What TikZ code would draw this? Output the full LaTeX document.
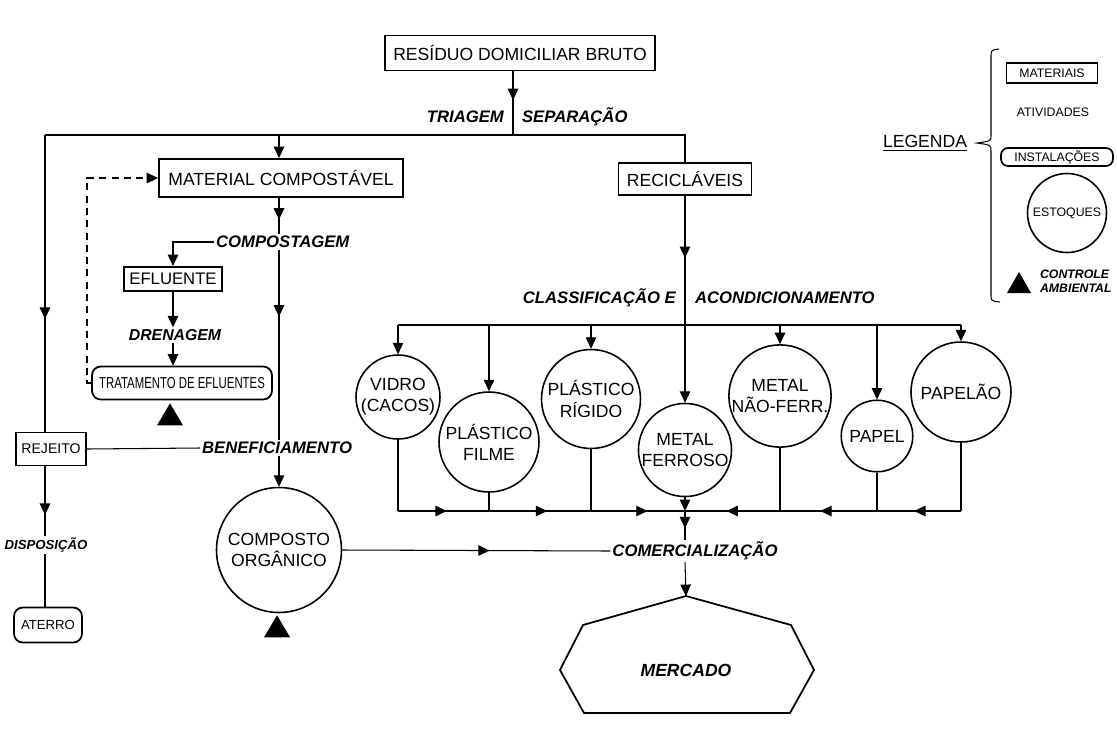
\documentclass[tikz,border=0pt]{standalone}
\usepackage{fontspec}
\setmainfont{Liberation Sans}
\newfontfamily\narrowfont{Liberation Sans}[FakeStretch=0.72]
\usetikzlibrary{arrows.meta,decorations.markings,calc}

\tikzset{
  ponta/.tip={Triangle[width=6pt,length=6.5pt]},
  fluxo/.style={line width=0.6pt},
  material/.style={draw, line width=1.1pt, inner sep=0pt, font=\fontsize{10}{12}\selectfont},
  instalacao/.style={draw, line width=1pt, rounded corners=5pt, inner sep=0pt},
  estoque/.style={draw, circle, line width=0.9pt, inner sep=0pt, align=center, font=\fontsize{10}{12}\selectfont},
  atividade/.style={inner sep=1pt, font=\bfseries\itshape\fontsize{9.5}{11}\selectfont},
  arrowat/.style={postaction={decorate}, decoration={markings,
      mark=at position #1 with {\arrow{ponta}}}},
  barra/.style n args={3}{postaction={decorate}, decoration={markings,
      mark=at position #1 with {\arrow{ponta}},
      mark=at position #2 with {\arrow{ponta}},
      mark=at position #3 with {\arrow{ponta}}}}
}

% triangulo de controle ambiental
\newcommand{\ambiental}[1]{\fill (#1) -- ++(-13,22) -- ++(26,0) -- cycle;}

\begin{document}
\begin{tikzpicture}[x=0.02cm, y=-0.02cm]
  \useasboundingbox (0,0) rectangle (1117,731);

  % materiais e atividades
  \node[material, minimum width=5.4cm, minimum height=0.7cm] (residuo) at (520,53) {RESÍDUO DOMICILIAR BRUTO};
  \node[atividade, anchor=east] (triagem) at (506,117) {TRIAGEM};
  \node[atividade, anchor=west] (separacao) at (520,117) {SEPARAÇÃO};
  \node[material, minimum width=4.88cm, minimum height=0.76cm] (material) at (281,178) {MATERIAL COMPOSTÁVEL};
  \node[material, minimum width=2.66cm, minimum height=0.64cm] (reciclaveis) at (685,179) {RECICLÁVEIS};
  \node[atividade, anchor=west] (compostagem) at (214,242) {COMPOSTAGEM};
  \node[material, minimum width=1.96cm, minimum height=0.48cm, font=\fontsize{9.5}{11}\selectfont] (efluente) at (173,279) {EFLUENTE};
  \node[atividade, font=\bfseries\itshape\fontsize{9}{11}\selectfont] (drenagem) at (175,335) {DRENAGEM};
  \node[instalacao, minimum width=3.6cm, minimum height=0.66cm, font=\narrowfont\fontsize{9}{10}\selectfont] (tratamento) at (182,383) {TRATAMENTO DE EFLUENTES};
  \node[material, minimum width=1.4cm, minimum height=0.66cm, font=\fontsize{8}{9}\selectfont] (rejeito) at (51,449) {REJEITO};
  \node[atividade, anchor=west] (beneficiamento) at (200,448) {BENEFICIAMENTO};
  \node[atividade, font=\bfseries\itshape\fontsize{7.5}{9}\selectfont] (disposicao) at (46,545) {DISPOSIÇÃO};
  \node[instalacao, minimum width=1.36cm, minimum height=0.7cm, font=\fontsize{7.5}{9}\selectfont] (aterro) at (48,625) {ATERRO};
  \node[estoque, minimum size=2.5cm] (composto) at (279,550) {COMPOSTO\\ORGÂNICO};
  \node[atividade, anchor=east] (classificacao) at (678,298) {CLASSIFICAÇÃO E};
  \node[atividade, anchor=west] (acondicionamento) at (693,298) {ACONDICIONAMENTO};

  % estoques de reciclaveis
  \node[estoque, minimum size=1.68cm] (vidro) at (398,397) {VIDRO\\(CACOS)};
  \node[estoque, minimum size=2cm] (filme) at (489,442) {PLÁSTICO\\FILME};
  \node[estoque, minimum size=1.98cm] (rigido) at (591,399) {PLÁSTICO\\RÍGIDO};
  \node[estoque, minimum size=1.84cm] (ferroso) at (685,450) {METAL\\FERROSO};
  \node[estoque, minimum size=2.04cm] (naoferr) at (780,396) {METAL\\NÃO-FERR.};
  \node[estoque, minimum size=1.43cm] (papel) at (877,436) {PAPEL};
  \node[estoque, minimum size=2cm] (papelao) at (961,392) {PAPELÃO};

  \node[atividade] (comercializacao) at (695,551) {COMERCIALIZAÇÃO};
  \node[atividade, font=\bfseries\itshape\fontsize{10}{12}\selectfont] (mercado) at (686,670) {MERCADO};
  \coordinate (mtopo) at ($(mercado)+(0,-74)$);
  \draw[line width=1pt] (mtopo) -- ++(-103,29) -- ++(-23,45) -- ++(24,43)
    -- ++(206,0) -- ++(24,-43) -- ++(-23,-45) -- cycle;

  \ambiental{$(tratamento.south)+(-12,3)$}
  \ambiental{$(composto.south)+(-2,2)$}

  % conexoes
  \coordinate (topo) at (513,135);
  \coordinate (tl) at (45,135);
  \coordinate (tr) at (685,135);
  \coordinate (bl) at (398,325);
  \coordinate (br) at (961,325);
  \coordinate (jx) at (685,511);
  \coordinate (dobra) at (87,383);

  \draw[fluxo, arrowat=0.45] (residuo.south -| topo) -- (topo);
  \draw[fluxo] (tl) -- (tr) -- (reciclaveis.north);
  \draw[fluxo, -ponta] (composto.north |- tl) -- (composto.north |- material.north);
  \draw[fluxo, arrowat=0.62] (tl) -- (tl |- rejeito.north);
  \draw[fluxo, arrowat=0.7] (tl |- rejeito.south) -- (tl |- disposicao.north);
  \draw[fluxo] (tl |- disposicao.south) -- (tl |- aterro.north);
  \draw[fluxo] (rejeito.east) -- (beneficiamento.west);

  \draw[fluxo, arrowat=0.6] (composto.north |- material.south) -- (composto.north |- compostagem.north);
  \draw[fluxo, arrowat=0.35] (composto.north |- compostagem.south) -- (composto.north |- beneficiamento.north);
  \draw[fluxo, -ponta] (composto.north |- beneficiamento.south) -- (composto.north);
  \draw[fluxo, -ponta] (compostagem.west) -| (efluente.north);
  \draw[fluxo, -ponta] (efluente.south) -- (efluente.south |- drenagem.north);
  \draw[fluxo, -ponta] (efluente.south |- drenagem.south) -- (efluente.south |- tratamento.north);
  \draw[fluxo, dashed, dash pattern=on 4pt off 3pt, -ponta] (tratamento.west) -- (dobra) |- (material.west);

  \draw[fluxo, arrowat=0.3, -ponta] (reciclaveis.south) -- (ferroso.north);
  \draw[fluxo] (bl) -- (br);
  \draw[fluxo, -ponta] (bl) -- (vidro.north);
  \draw[fluxo, -ponta] (filme.north |- bl) -- (filme.north);
  \draw[fluxo, -ponta] (rigido.north |- bl) -- (rigido.north);
  \draw[fluxo, -ponta] (naoferr.north |- bl) -- (naoferr.north);
  \draw[fluxo, -ponta] (papel.north |- bl) -- (papel.north);
  \draw[fluxo, -ponta] (br) -- (papelao.north);

  \draw[fluxo] (vidro.south) -- (vidro.south |- jx);
  \draw[fluxo] (filme.south) -- (filme.south |- jx);
  \draw[fluxo] (rigido.south) -- (rigido.south |- jx);
  \draw[fluxo] (naoferr.south) -- (naoferr.south |- jx);
  \draw[fluxo] (papel.south) -- (papel.south |- jx);
  \draw[fluxo] (papelao.south) -- (papelao.south |- jx);
  \draw[fluxo, barra={0.17}{0.52}{0.87}] (vidro.south |- jx) -- (jx);
  \draw[fluxo, barra={0.17}{0.51}{0.85}] (papelao.south |- jx) -- (jx);
  \draw[fluxo, -ponta] (ferroso.south) -- (jx);
  \draw[fluxo, arrowat=0.6] (jx) -- (jx |- comercializacao.north);
  \draw[fluxo, -ponta] (jx |- comercializacao.south) -- (mtopo);
  \draw[fluxo, arrowat=0.55] (composto.east) -- (comercializacao.west);

  % legenda
  \node[font=\fontsize{10}{12}\selectfont] (legenda) at (925,143) {\underline{LEGENDA}};
  \draw[fluxo] (999,49) .. controls (991,50) .. (991,58) -- (991,136)
    .. controls (991,141) .. (977,143) .. controls (991,145) .. (991,151)
    -- (991,294) .. controls (991,301) .. (1000,302);
  \node[material, line width=1pt, minimum width=1.82cm, minimum height=0.4cm, font=\fontsize{7}{8}\selectfont] (lmateriais) at (1052,73) {MATERIAIS};
  \node[font=\fontsize{7}{8}\selectfont] (latividades) at (1053,112) {ATIVIDADES};
  \node[instalacao, rounded corners=4pt, minimum width=2.24cm, minimum height=0.36cm, font=\fontsize{7}{8}\selectfont] (linstalacoes) at (1057,157) {INSTALAÇÕES};
  \node[estoque, minimum size=1.58cm, font=\fontsize{7}{8}\selectfont] (lestoques) at (1067,213) {ESTOQUES};
  \node[atividade, anchor=west, align=left, font=\bfseries\itshape\fontsize{7}{8}\selectfont] (lcontrole) at (1038,281) {CONTROLE\\AMBIENTAL};
  \fill (1019,272) -- ++(-12,21) -- ++(24,0) -- cycle;
\end{tikzpicture}
\end{document}
